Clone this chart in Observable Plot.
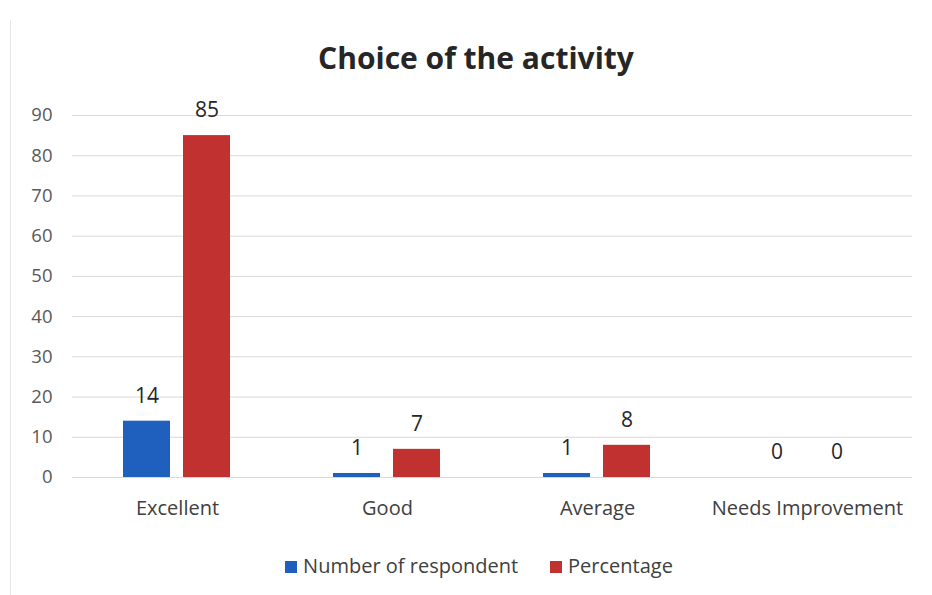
<!DOCTYPE html>
<html>
<head>
<meta charset="utf-8">
<script src="https://cdn.jsdelivr.net/npm/d3@7"></script>
<script src="https://cdn.jsdelivr.net/npm/@observablehq/plot@0.6"></script>
<style>
  body { margin: 0; background: #fff; font-family: "Open Sans", Lato, sans-serif; }
  #wrap { position: relative; width: 932px; height: 595px; overflow: hidden; }
  #border { position: absolute; left: 10px; top: 20px; width: 1px; height: 575px; background: #e6e6e6; }
  #title { position: absolute; left: 0; top: 38px; width: 952px; text-align: center; font-size: 30px; font-weight: bold; color: #262626; line-height: 40px; }
  #chart { position: absolute; left: 0; top: 95px; }
  #legend { position: absolute; left: 0; top: 551px; width: 958px; text-align: center; font-size: 20px; color: #404040; line-height: 30px; }
  .sw { display: inline-block; width: 12px; height: 12px; margin-right: 6px; vertical-align: 0px; }
  .item { margin: 0 16px; }
</style>
</head>
<body>
<div id="wrap">
  <div id="border"></div>
  <div id="title">Choice of the activity</div>
  <div id="chart"></div>
  <div id="legend"></div>
</div>
<script>
const categories = ["Excellent", "Good", "Average", "Needs Improvement"];
const seriesNames = ["Number of respondent", "Percentage"];
const respondents = [14, 1, 1, 0];
const percentages = [85, 7, 8, 0];
const colors = ["#1f5fbd", "#c0312f"];
const yTicks = [0, 10, 20, 30, 40, 50, 60, 70, 80, 90];

const data = [];
categories.forEach((c, i) => {
  data.push({cat: c, series: seriesNames[0], value: respondents[i]});
  data.push({cat: c, series: seriesNames[1], value: percentages[i]});
});

const chart = Plot.plot({
  width: 932,
  height: 450,
  marginLeft: 70,
  marginRight: 19,
  marginTop: 20,
  marginBottom: 68,
  style: {fontFamily: "'Open Sans', Lato, sans-serif", background: "transparent"},
  fx: {domain: categories, padding: 0, label: null},
  x: {domain: seriesNames, paddingInner: 0.213, paddingOuter: 0.836, axis: null},
  y: {domain: [0, 90], ticks: yTicks, label: null},
  color: {domain: seriesNames, range: colors},
  marks: [
    Plot.gridY(yTicks, {stroke: "#d9d9d9", strokeOpacity: 1, strokeWidth: 1}),
    Plot.axisY({ticks: yTicks, tickSize: 0, tickPadding: 20, fontSize: 18.5, fill: "#595959", label: null}),
    Plot.axisFx({anchor: "bottom", tickSize: 0, tickPadding: 23, fontSize: 20, fill: "#404040", label: null}),
    Plot.barY(data, {fx: "cat", x: "series", y: "value", fill: "series"}),
    Plot.text(data, {fx: "cat", x: "series", y: "value", text: d => String(d.value), dy: -25, lineAnchor: "middle", fontSize: 21, fill: "#262626"})
  ]
});
document.getElementById("chart").appendChild(chart);

const legend = document.getElementById("legend");
seriesNames.forEach((s, i) => {
  const span = document.createElement("span");
  span.className = "item";
  span.innerHTML = `<span class="sw" style="background:${colors[i]}"></span>${s}`;
  legend.appendChild(span);
});
</script>
</body>
</html>
